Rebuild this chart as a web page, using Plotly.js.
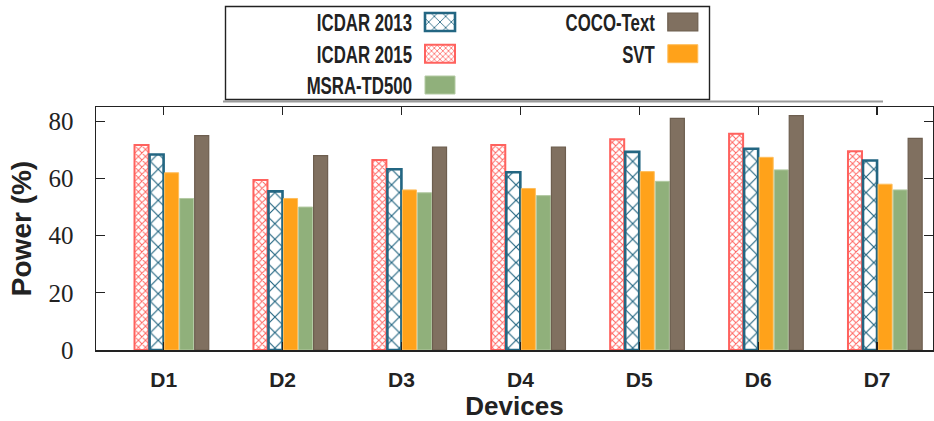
<!DOCTYPE html>
<html>
<head>
<meta charset="utf-8">
<script src="https://cdn.plot.ly/plotly-3.0.1.min.js"></script>
<style>
html,body{margin:0;padding:0;background:#fff;}
#chart{width:934px;height:421px;}
</style>
</head>
<body>
<div id="chart"></div>
<script>
// ---- data ----
var devices = ['D1','D2','D3','D4','D5','D6','D7'];
var icdar2015 = [71.7, 59.5, 66.5, 71.7, 73.7, 75.6, 69.5];
var icdar2013 = [68.4, 55.5, 63.2, 62.2, 69.3, 70.4, 66.3];
var svt       = [62.0, 53.0, 56.0, 56.5, 62.4, 67.4, 58.0];
var msra      = [53.0, 50.0, 55.0, 54.0, 59.0, 63.0, 56.0];
var coco      = [75.0, 68.0, 71.0, 71.0, 81.0, 82.0, 74.0];
var yTicks = [0, 20, 40, 60, 80];

// ---- geometry / styles ----
var W = 934, H = 421;
var M = {l: 96, r: 1, t: 107, b: 71};
var plotW = W - M.l - M.r, plotH = H - M.t - M.b;
function px2x(px){ return (px - M.l) / plotW; }
function py2y(py){ return (H - M.b - py) / plotH; }

var barW = 0.118;
var centers = [-0.186, -0.0595, 0.067, 0.1935, 0.32];
var ink = '#222';

function barTrace(name, vals, idx, marker){
  return {
    type: 'bar', name: name, x: devices, y: vals,
    width: barW, offset: centers[idx] - barW / 2,
    marker: marker, hoverinfo: 'skip'
  };
}

var data = [
  barTrace('ICDAR 2015', icdar2015, 0, {
    color: '#ffffff',
    line: {color: '#ff625e', width: 2},
    pattern: {shape: 'x', fgcolor: '#ff625e', bgcolor: '#ffffff', size: 5, solidity: 0.35}
  }),
  barTrace('ICDAR 2013', icdar2013, 1, {
    color: '#ffffff',
    line: {color: '#236682', width: 2.6},
    pattern: {shape: 'x', fgcolor: '#236682', bgcolor: '#ffffff', size: 11, solidity: 0.2}
  }),
  barTrace('SVT', svt, 2, {color: '#ffa21a', line: {color: '#ffbe5c', width: 1}}),
  barTrace('MSRA-TD500', msra, 3, {color: '#90b07b', line: {color: '#b3caa3', width: 1}}),
  barTrace('COCO-Text', coco, 4, {color: '#807060', line: {color: '#6d5e4f', width: 1.2}})
];

var layout = {
  width: W, height: H,
  margin: M,
  paper_bgcolor: '#ffffff', plot_bgcolor: '#ffffff',
  barmode: 'overlay',
  showlegend: true,
  legend: {
    orientation: 'v', x: 0.3, y: 0.9, xanchor: 'left', yanchor: 'top',
    bgcolor: 'rgba(0,0,0,0)', borderwidth: 0,
    font: {family: '"Liberation Sans", Arial, sans-serif', size: 23, color: ink, weight: 'bold'}
  },
  xaxis: {
    type: 'category',
    range: [-0.569, 6.47],
    showgrid: false, zeroline: false,
    showline: true, linecolor: ink, linewidth: 1.5, mirror: 'ticks',
    ticks: 'inside', ticklen: 8, tickcolor: ink, tickwidth: 1.3,
    ticklabelstandoff: 10,
    tickfont: {family: '"Liberation Sans", Arial, sans-serif', size: 21, color: ink, weight: 'bold'},
    title: {text: 'Devices', standoff: 24,
            font: {family: '"Liberation Sans", Arial, sans-serif', size: 26, color: ink, weight: 'bold'}},
    automargin: false, fixedrange: true
  },
  yaxis: {
    range: [0, 85],
    tickvals: yTicks, ticktext: yTicks.map(String),
    showgrid: false, zeroline: false,
    showline: true, linecolor: ink, linewidth: 1.5, mirror: 'ticks',
    ticks: 'inside', ticklen: 9, tickcolor: ink, tickwidth: 1.3,
    ticklabelstandoff: 16,
    tickfont: {family: '"Liberation Serif", "Times New Roman", serif', size: 25, color: ink},
    title: {text: 'Power (%)', standoff: 8,
            font: {family: '"Liberation Sans", Arial, sans-serif', size: 28, color: ink, weight: 'bold'}},
    automargin: false, fixedrange: true
  },
  shapes: [
    {type: 'line', xref: 'paper', yref: 'paper',
     x0: px2x(223), x1: px2x(883), y0: py2y(101.5), y1: py2y(101.5),
     line: {color: '#9a9a9a', width: 2}},
    {type: 'rect', xref: 'paper', yref: 'paper',
     x0: px2x(225.5), x1: px2x(709.5), y0: py2y(6.5), y1: py2y(99.5),
     fillcolor: 'rgba(0,0,0,0)', line: {color: ink, width: 1.4}}
  ]
};

// where each legend swatch should sit (centre, px)
var legendPos = {
  'ICDAR 2013': [440, 22],
  'ICDAR 2015': [440, 53.7],
  'MSRA-TD500': [440, 85],
  'COCO-Text':  [682.8, 22],
  'SVT':        [682.8, 53.7]
};
var textSqueeze = 0.73;

var gd = document.getElementById('chart');
Plotly.newPlot(gd, data, layout, {staticPlot: true, displayModeBar: false}).then(function(){
  try {
    var leg = gd.querySelector('.legend');
    if (!leg) return;
    var sb = leg.querySelector('.scrollbox');
    if (sb) sb.removeAttribute('clip-path');
    var items = leg.querySelectorAll('g.traces');
    items.forEach(function(g){
      var d = g.__data__;
      var name = (d && d[0] && d[0].trace) ? d[0].trace.name : null;
      if (!name || !legendPos[name]) return;
      var m = g.parentNode.getCTM();
      var p = legendPos[name];
      g.setAttribute('transform', 'translate(' + (p[0] - m.e) + ',' + (p[1] - m.f) + ')');
      var lp = g.querySelectorAll('.legendpoints, .legendpoints g');
      lp.forEach(function(e){ e.removeAttribute('transform'); });
      g.querySelectorAll('.legendpoints path').forEach(function(path){
        path.setAttribute('d', 'M15,9H-15V-9H15Z');
        path.setAttribute('transform', 'translate(0,0)');
      });
      var t = g.querySelector('text.legendtext');
      if (t) {
        t.setAttribute('x', -28 / textSqueeze);
        t.setAttribute('text-anchor', 'end');
        t.style.textAnchor = 'end';
        t.setAttribute('transform', 'scale(' + textSqueeze + ',1)');
      }
    });
  } catch(e) { console.log(e); }
});
</script>
</body>
</html>
